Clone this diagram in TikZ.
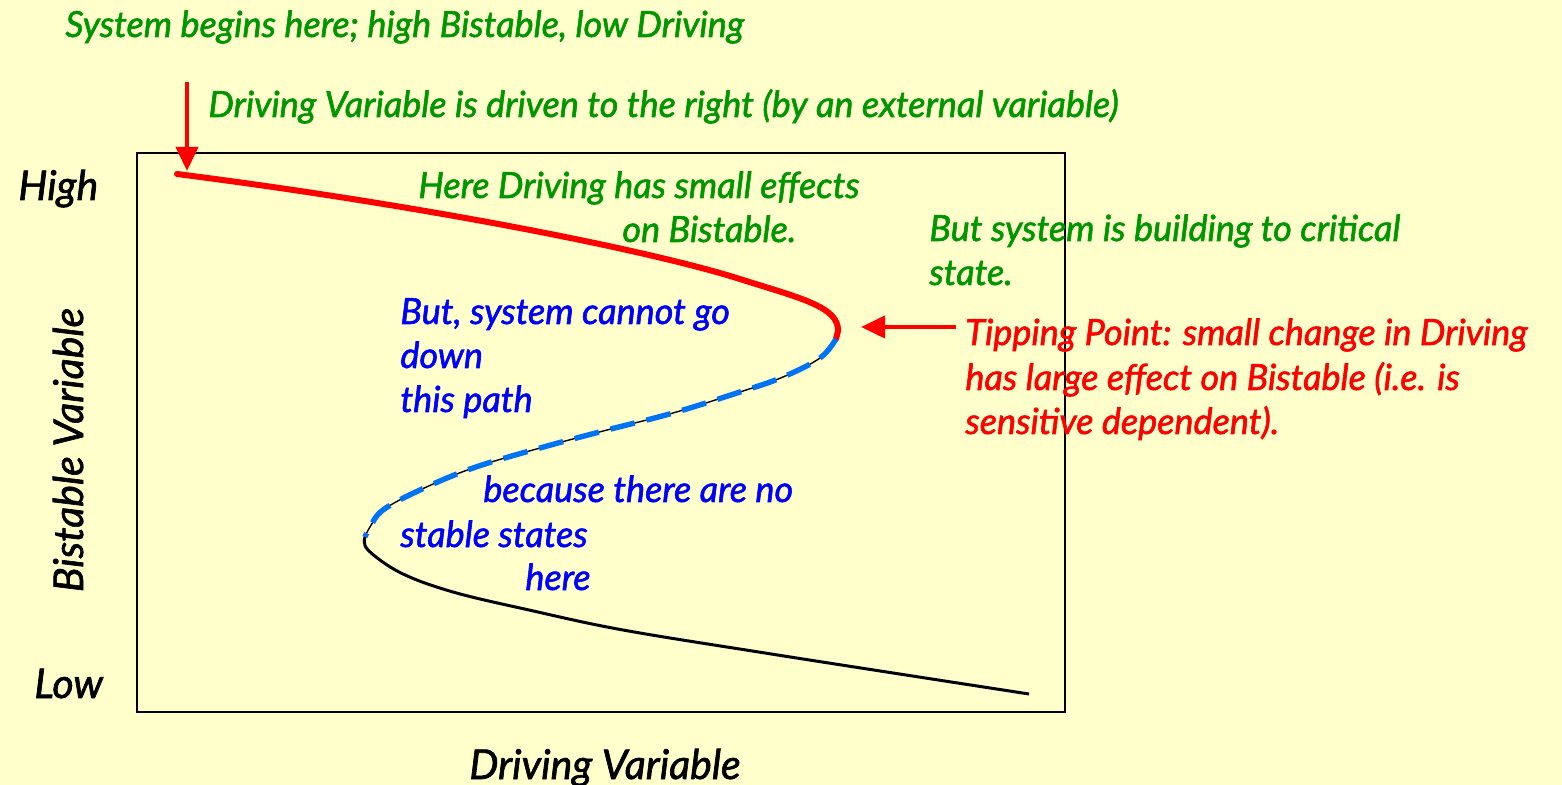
\documentclass[tikz,border=0pt]{standalone}
\usepackage{fontspec}
\setmainfont{Lato}[ItalicFeatures={FakeBold=1.6}]
\usetikzlibrary{arrows.meta}
\definecolor{paper}{RGB}{255,255,204}
\definecolor{leafgreen}{RGB}{0,150,0}
\definecolor{dashblue}{RGB}{0,115,245}
\begin{document}
\begin{tikzpicture}[
  x=0.5pt,y=-0.5pt,
  >={Triangle[width=11pt,length=12pt]},
  lbl/.style={anchor=base west,inner sep=0pt,font=\fontsize{18}{22}\selectfont\itshape},
  note/.style={lbl,text=leafgreen},
  warn/.style={lbl,text=red},
  path note/.style={lbl,text=blue},
  axis/.style={lbl,text=black,font=\fontsize{20.5}{24}\selectfont\itshape}
]
  \fill[paper] (0,0) rectangle (1562,785);
  \useasboundingbox (0,0) rectangle (1562,785);
  \draw[line width=1.3pt] (137,153) rectangle (1065,712);

  % the S-shaped curve
  \draw[red,line width=3pt,line cap=round]
    (177,174) .. controls (420,205) and (650,250) .. (743,280)
    .. controls (800,298) and (839,307) .. (838,331) -- (836,339);
  \draw[black,line width=0.7pt]
    plot[smooth,tension=0.6] coordinates {(836,339) (820,358) (783,377) (740,392)
      (673,413) (607,430) (540,448) (473,468) (420,490) (383,510) (370,527) (365,537)};
  \draw[dashblue,line width=2.7pt,dash pattern=on 12.5pt off 6pt]
    plot[smooth,tension=0.6] coordinates {(836,339) (820,358) (783,377) (740,392)
      (673,413) (607,430) (540,448) (473,468) (420,490) (383,510) (370,527) (365,537)};
  \draw[black,line width=1.5pt]
    plot[smooth,tension=0.6] coordinates {(365,537) (368,550) (401,573) (453,592)
      (529,610) (623,630) (765,653) (906,675) (1029,694)};

  % axis labels
  \node[axis] (high) at (18,200) {High};
  \node[axis] (low) at (34,698) {Low};
  \node[axis,anchor=base,rotate=90] (yname) at (83,450) {Bistable Variable};
  \node[axis,anchor=base] (xname) at (605,779) {Driving Variable};

  % comments
  \node[note] (start) at (65,37) {System begins here; high Bistable, low Driving};
  \node[note] (push) at (208,117) {Driving Variable is driven to the right (by an external variable)};
  \node[note] (small) at (418,198) {Here Driving has small effects};
  \node[note] (small2) at (622,242) {on Bistable.};
  \node[note] (build) at (929,241) {But system is building to critical};
  \node[note] (build2) at (929,285) {state.};
  \node[path note] (cannot) at (400,324) {But, system cannot go};
  \node[path note] (cannot2) at (400,368) {down};
  \node[path note] (cannot3) at (400,412) {this path};
  \node[path note] (nostable) at (483,502) {because there are no};
  \node[path note] (nostable2) at (400,547) {stable states};
  \node[path note] (nostable3) at (525,590) {here};
  \node[warn] (tip) at (965,345) {Tipping Point: small change in Driving};
  \node[warn] (tip2) at (965,390) {has large effect on Bistable (i.e. is};
  \node[warn] (tip3) at (965,434) {sensitive dependent).};

  \coordinate (startarr) at (187,82);
  \coordinate (startend) at (187,171);
  \coordinate (tiparr) at (956,327);
  \coordinate (tipend) at (861,327);
  \draw[->,red,line width=2pt] (startarr)--(startend);
  \draw[->,red,line width=2pt] (tiparr)--(tipend);
\end{tikzpicture}
\end{document}
